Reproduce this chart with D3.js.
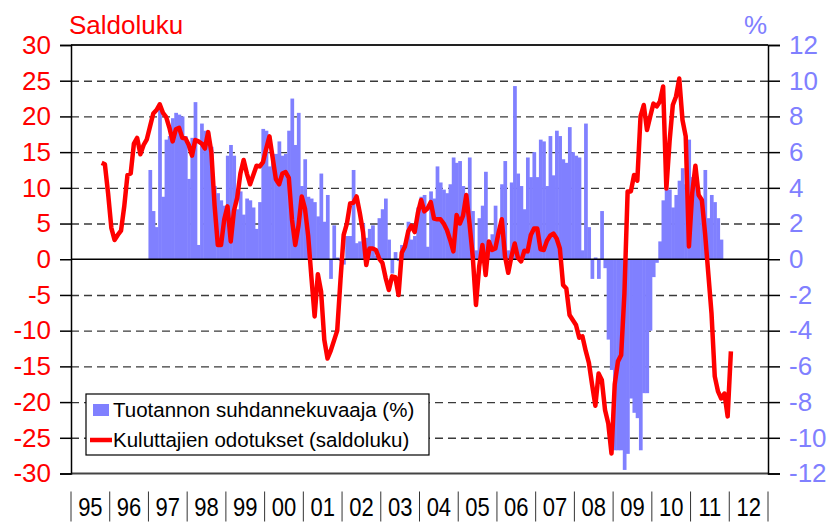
<!DOCTYPE html>
<html>
<head>
<meta charset="utf-8">
<script src="https://cdn.jsdelivr.net/npm/d3@7"></script>
<style>
    body { margin: 0; background: #fff; }
    svg { font-family: Arial, "Liberation Sans", sans-serif; }
</style>
</head>
<body>
<svg width="827" height="522"></svg>
<script>
// ---- Dados (mensais)
const lineStart = '1995-10';
const barStart = '1997-01';

// Kuluttajien odotukset (saldoluku), alkaen 10/1995
const kuluttajat = [
    13.5, 13.3, 9.2,
    4.4, 2.7, 3.4, 4.0, 7.4, 11.8, 12.0, 16.2, 17.0, 14.7, 16.0, 16.8,
    18.6, 20.4, 20.9, 21.7, 20.5, 19.9, 18.4, 16.5, 18.2, 18.4, 17.0, 16.9,
    16.0, 14.5, 16.7, 16.5, 16.2, 15.5, 17.8, 15.0, 7.5, 2.0, 2.0, 5.6,
    7.4, 2.5, 6.8, 8.6, 12.0, 13.9, 12.0, 10.5, 11.8, 13.1, 13.0, 13.6,
    15.5, 17.2, 14.2, 11.2, 10.5, 12.0, 12.2, 11.4, 5.5, 2.0, 4.7, 8.8,
    7.1, 3.3, -2.5, -8.0, -2.1, -4.5, -11.3, -13.9, -12.8, -11.4, -10.0, -3.0,
    3.4, 5.0, 7.8, 7.9, 8.8, 6.5, 3.8, -0.8, 1.5, 1.5, 1.3, 0.1,
    -0.5, -2.6, -4.3, -2.4, -2.5, -5.0, 0.9, 1.8, 3.9, 4.7, 3.8, 6.5,
    8.3, 6.7, 7.1, 8.0, 5.7, 5.6, 5.6, 5.0, 4.1, 2.7, 1.1, 6.2,
    5.0, 6.1, 9.0, 5.0, 0.4, -6.4, -1.0, 2.0, -2.2, 2.5, 1.3, 1.5,
    3.7, 5.6, 0.4, -1.9, 0.4, 2.2, 0.2, -0.3, 1.2, 1.1, 3.4, 4.3,
    4.3, 1.4, 1.3, 2.6, 3.3, 3.6, 2.9, 1.5, -3.6, -4.1, -7.8, -8.5,
    -9.2, -11.0, -10.8, -12.8, -14.5, -17.6, -20.5, -16.0, -16.9, -21.1, -23.0, -27.2,
    -17.5, -14.3, -13.4, -4.8, 9.5, 9.5, 11.8, 11.0, 20.0, 21.6, 18.1, 20.0,
    21.8, 21.4, 22.1, 24.2, 9.9, 16.5, 21.6, 22.8, 25.3, 19.5, 17.2, 1.8,
    9.2, 13.1, 9.0, 8.3, 3.6, -2.0, -7.6, -16.4, -18.5, -19.5, -18.8, -22.0,
    -12.9
];

// Tuotannon suhdannekuvaaja (%), alkaen 1/1997
const tuotanto = [
    5.0, 2.7, 1.8, 8.4, 3.5, 6.7, 6.9, 7.9, 8.2, 8.1, 8.0, 6.9,
    4.5, 6.8, 8.8, 0.8, 7.6, 7.2, 7.1, 6.3, 4.1, 3.7, 3.3, 3.0,
    5.8, 6.4, 5.8, 2.8, 3.8, 2.5, 3.4, 3.3, 2.9, 1.7, 3.2, 7.3,
    7.2, 5.2, 5.9, 5.9, 6.6, 5.8, 5.9, 7.2, 9.0, 6.4, 8.2, 4.1,
    5.6, 3.5, 3.4, 3.2, 2.4, 4.8, 2.1, 3.6, -1.1, 1.9, 0.1, -0.1,
    -0.3, 1.3, 1.3, 5.0, 0.9, 1.0, 2.0, 1.2, 1.7, 1.9, 0.2, 2.3,
    2.8, 3.4, 1.1, -0.8, 0.4, -0.1, 0.8, 0.9, 2.1, 1.1, 1.3, 2.9,
    3.5, 3.6, 0.7, 3.8, 3.4, 5.2, 4.3, 3.9, 3.7, 4.2, 5.7, 5.4,
    5.5, 4.1, 3.0, 5.7, 2.7, 0.5, 2.3, 3.0, 4.9, 0.9, 1.4, 3.0,
    1.3, 4.2, 5.5, 0.5, 4.3, 9.7, 4.8, 4.1, 2.8, 5.7, 4.6, 6.0,
    4.6, 6.7, 6.6, 4.1, 6.9, 4.7, 7.2, 6.9, 5.6, 5.4, 7.4, 6.0,
    5.8, 5.7, 0.5, 7.6, 1.8, -1.1, 0.1, -1.1, 2.7, -0.5, -4.5, -6.2,
    -10.7, -10.7, -10.7, -11.8, -10.9, -7.8, -8.6, -8.9, -10.7, -7.5, -7.5, -4.0,
    -1.0, -0.2, 1.0, 3.3, 4.0, 3.9, 2.9, 3.6, 4.4, 5.1, 4.2, 6.7,
    4.6, 4.3, 3.5, 3.3, 5.0, 2.3, 3.6, 3.2, 2.3, 1.1
];

const years = ['95', '96', '97', '98', '99', '00', '01', '02', '03', '04', '05', '06', '07', '08', '09', '10', '11', '12'];
const leftTicks = d3.range(-30, 31, 5);
const rightTicks = d3.range(-12, 13, 2);

const labels = {
    left: 'Saldoluku',
    right: '%',
    bars: 'Tuotannon suhdannekuvaaja (%)',
    line: 'Kuluttajien odotukset (saldoluku)'
};

// ---- Cores
const red = '#ff0000';
const blue = '#8080ff';

const margens = { left: 71, right: 59, top: 45, bottom: 48.5 };
const svg = d3.select('svg');
const w = 827 - margens.left - margens.right;
const h = 522 - margens.top - margens.bottom;

const fmt = d3.timeFormat('%Y-%m');
const months = d3.timeMonth.range(new Date(1995, 0, 1), new Date(2013, 0, 1)).map(fmt);

// ---- Escalas
const mapX = d3.scaleBand().domain(months).range([0, w]).padding(0);
const bw = mapX.bandwidth();
const mapY = d3.scaleLinear().domain([-30, 30]).range([h, 0]);
const mapYR = d3.scaleLinear().domain([-12, 12]).range([h, 0]);

const i0 = months.indexOf(lineStart);
const j0 = months.indexOf(barStart);
const lineData = kuluttajat.map((v, k) => ({ m: months[i0 + k], v }));
const barData = tuotanto.map((v, k) => ({ m: months[j0 + k], v }));

const g = svg.append('g').attr('transform', `translate(${margens.left},${margens.top})`);

// ---- Grade tracejada
g.append('g')
    .call(d3.axisLeft(mapY).tickValues(leftTicks.filter(t => t !== 0 && Math.abs(t) !== 30)).tickSize(-w).tickFormat(''))
    .call(s => s.select('.domain').remove())
    .selectAll('line')
    .attr('stroke', '#3a3a3a')
    .attr('stroke-width', 1.4)
    .attr('stroke-dasharray', '8,5');

// ---- Barras
g.append('g').selectAll('rect')
    .data(barData)
    .join('rect')
    .attr('x', d => mapX(d.m))
    .attr('width', bw + 0.5)
    .attr('y', d => mapYR(Math.max(0, d.v)))
    .attr('height', d => Math.abs(mapYR(d.v) - mapYR(0)))
    .attr('fill', blue);

// ---- Linha zero e bordas
g.append('line').attr('x1', 0).attr('x2', w).attr('y1', mapY(0)).attr('y2', mapY(0))
    .attr('stroke', '#000').attr('stroke-width', 1.6);
g.append('line').attr('x1', 0).attr('x2', w).attr('y1', 0).attr('y2', 0)
    .attr('stroke', '#222').attr('stroke-width', 1.8);
g.append('line').attr('x1', 0).attr('x2', w).attr('y1', h).attr('y2', h)
    .attr('stroke', '#444').attr('stroke-width', 2);

// ---- Linha
const line = d3.line()
    .x(d => mapX(d.m) + bw / 2)
    .y(d => mapY(d.v));

g.append('path')
    .datum(lineData)
    .attr('d', line)
    .attr('fill', 'none')
    .attr('stroke', red)
    .attr('stroke-width', 4.5)
    .attr('stroke-linejoin', 'round');

// ---- Eixos
const axisL = g.append('g')
    .call(d3.axisLeft(mapY).tickValues(leftTicks).tickSize(11).tickPadding(9).tickFormat(d => String(d)));
axisL.selectAll('line, path').attr('stroke', '#000').attr('stroke-width', 1.5);
axisL.selectAll('text').attr('fill', red).style('font-size', '26px');

const axisR = g.append('g')
    .attr('transform', `translate(${w},0)`)
    .call(d3.axisRight(mapYR).tickValues(rightTicks).tickSize(12).tickPadding(9).tickFormat(d => String(d)));
axisR.selectAll('line, path').attr('stroke', '#000').attr('stroke-width', 1.5);
axisR.selectAll('text').attr('fill', blue).style('font-size', '26px');

svg.append('text')
    .attr('x', 69).attr('y', 34)
    .attr('fill', red).style('font-size', '26px')
    .text(labels.left);

svg.append('text')
    .attr('x', 767).attr('y', 34)
    .attr('text-anchor', 'end')
    .attr('fill', blue).style('font-size', '26px')
    .text(labels.right);

// ---- Vuodet
const yearG = g.append('g').attr('transform', `translate(0,${h})`);
years.forEach((y, k) => {
    const x0 = mapX(months[k * 12]);
    yearG.append('line')
        .attr('x1', x0).attr('x2', x0).attr('y1', 18).attr('y2', 48)
        .attr('stroke', '#333').attr('stroke-width', 1);
    yearG.append('text')
        .attr('transform', `translate(${x0 + 6 * bw},${42}) scale(0.88,1)`)
        .attr('text-anchor', 'middle')
        .style('font-size', '25px')
        .attr('fill', '#000')
        .text(y);
});
yearG.append('line')
    .attr('x1', w).attr('x2', w).attr('y1', 18).attr('y2', 48)
    .attr('stroke', '#333').attr('stroke-width', 1);

// ---- Selite
const leg = svg.append('g').attr('transform', 'translate(86,394)');
leg.append('rect')
    .attr('width', 343).attr('height', 61)
    .attr('fill', '#fff').attr('stroke', '#000').attr('stroke-width', 1.2);
leg.append('rect')
    .attr('x', 7).attr('y', 10).attr('width', 16).attr('height', 12)
    .attr('fill', blue);
leg.append('text')
    .attr('x', 27).attr('y', 23)
    .style('font-size', '20.5px')
    .text(labels.bars);
leg.append('line')
    .attr('x1', 4).attr('x2', 26).attr('y1', 46).attr('y2', 46)
    .attr('stroke', red).attr('stroke-width', 4.5);
leg.append('text')
    .attr('x', 27).attr('y', 53)
    .style('font-size', '20.5px')
    .text(labels.line);
</script>
</body>
</html>
